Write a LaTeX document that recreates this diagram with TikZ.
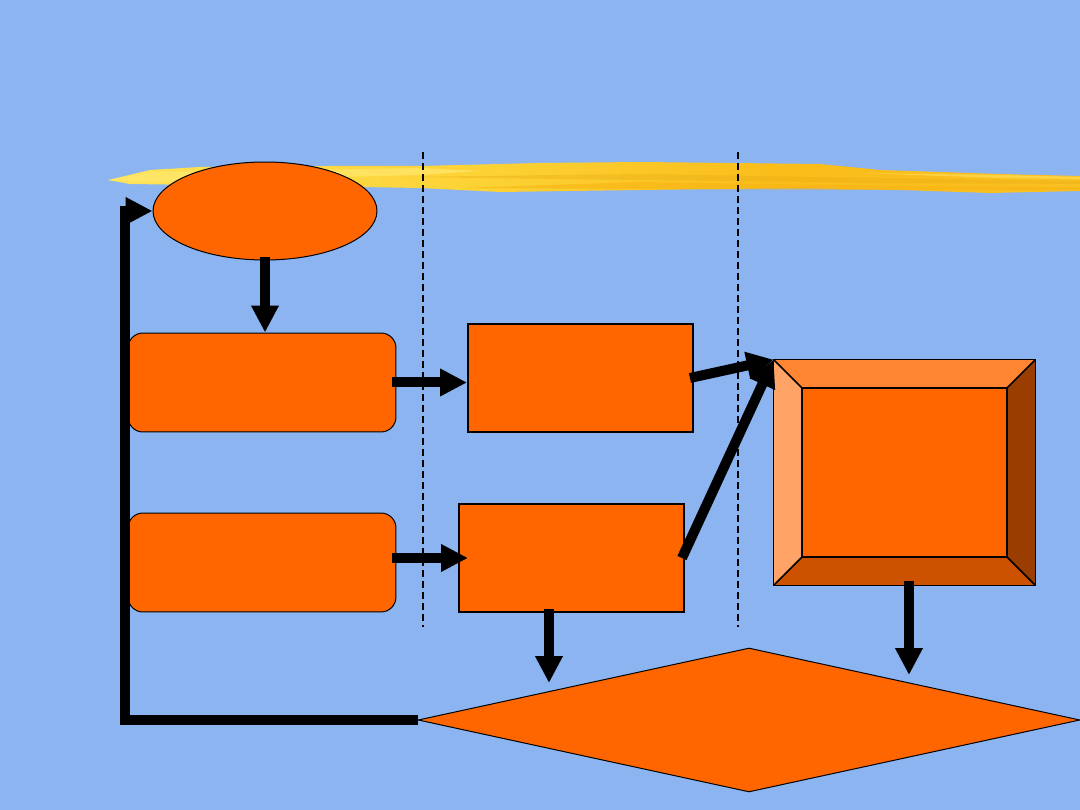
\documentclass[tikz,border=0pt]{standalone}
\usetikzlibrary{arrows.meta,shapes.geometric,calc}
\definecolor{bg}{RGB}{139,180,240}
\definecolor{org}{RGB}{255,102,0}
\definecolor{btop}{RGB}{255,133,51}
\definecolor{bleft}{RGB}{255,163,102}
\definecolor{bbot}{RGB}{204,82,0}
\definecolor{bright}{RGB}{153,61,0}
\definecolor{hlA}{RGB}{255,232,110}
\definecolor{hlB}{RGB}{250,200,40}
\definecolor{hlC}{RGB}{248,180,20}
\definecolor{hlD}{RGB}{230,170,20}
\pgfdeclarehorizontalshading{hlshade}{100bp}{%
  rgb(0bp)=(1,0.92,0.45); rgb(25bp)=(1,0.89,0.35); rgb(45bp)=(0.99,0.82,0.2);
  rgb(60bp)=(0.98,0.74,0.1); rgb(80bp)=(0.98,0.76,0.14); rgb(100bp)=(0.99,0.80,0.2)}
\tikzset{
  shp/.style={fill=org,draw=black,inner sep=0pt},
  ellip/.style={shp,ellipse,line width=0.02cm,minimum width=4.48cm,minimum height=1.96cm},
  rbox/.style={shp,rectangle,rounded corners=0.3cm,line width=0.02cm,minimum width=5.36cm,minimum height=1.98cm},
  sbox/.style={shp,rectangle,line width=0.04cm,minimum width=4.5cm,minimum height=2.16cm},
  bev/.style={rectangle,inner sep=0pt,minimum width=5.22cm,minimum height=4.5cm},
  dia/.style={shp,diamond,line width=0.02cm,minimum width=13.24cm,minimum height=2.88cm},
  arr/.style={line width=0.2cm,-{Triangle[length=0.54cm,width=0.52cm]}},
  lane/.style={line width=0.03cm,dash pattern=on 0.14cm off 0.08cm},
  face/.style={draw=black,line width=0.03cm,line join=miter}
}
\begin{document}
\begin{tikzpicture}[x=0.02cm,y=-0.02cm]
\fill[bg] (0,0) rectangle (1080,810);
\useasboundingbox (0,0) rectangle (1080,810);
% highlighter stroke
\shade[shading=hlshade]
  (108,180) -- (125,176) -- (150,170) -- (200,167) -- (330,166) -- (420,166) -- (540,163)
  -- (640,162) -- (820,164) -- (880,170) -- (1000,174) -- (1080,176) -- (1080,191)
  -- (990,193) -- (900,190) -- (800,188) -- (640,190) -- (500,192) -- (420,188)
  -- (300,186) -- (200,185) -- (130,184) -- cycle;
\fill[hlA,opacity=0.7] (108,180) -- (150,172) -- (300,170) -- (420,168) -- (480,171) -- (420,175) -- (300,178) -- (150,182) -- cycle;
\fill[hlD,opacity=0.35] (400,177) -- (640,174) -- (880,178) -- (1080,181) -- (1080,184) -- (880,183) -- (640,180) -- cycle;
\fill[hlC,opacity=0.6] (460,188) -- (640,182) -- (900,186) -- (1080,187) -- (1080,190) -- (900,190) -- (640,189) -- cycle;
\fill[hlA,opacity=0.5] (860,173) -- (1000,175) -- (1080,177) -- (1080,179) -- (1000,178) -- cycle;
% lanes
\draw[lane] (423,152) -- (423,627);
\draw[lane] (738,152) -- (738,627);
% nodes
\node[ellip] (start) at (265,211) {};
\node[rbox] (r1) at (262,382.5) {};
\node[rbox] (r2) at (262,562.5) {};
\node[sbox] (a) at (580.5,378) {};
\node[sbox] (b) at (571.5,558) {};
\node[bev] (bv) at (904.5,472.5) {};
\coordinate (i1) at (802,388);
\coordinate (i2) at (1007,388);
\coordinate (i3) at (1007,557);
\coordinate (i4) at (802,557);
\fill[btop] (bv.north west) -- (bv.north east) -- (i2) -- (i1) -- cycle;
\fill[bleft] (bv.north west) -- (i1) -- (i4) -- (bv.south west) -- cycle;
\fill[bbot] (bv.south west) -- (i4) -- (i3) -- (bv.south east) -- cycle;
\fill[bright] (bv.north east) -- (bv.south east) -- (i3) -- (i2) -- cycle;
\fill[org] (i1) rectangle (i3);
\draw[face] (bv.north west) rectangle (bv.south east);
\draw[face] (i1) rectangle (i3);
\draw[face] (bv.north west) -- (i1) (bv.north east) -- (i2) (bv.south east) -- (i3) (bv.south west) -- (i4);
\node[dia] (d) at (749,720) {};
% connectors
\draw[arr] ([yshift=0.06cm]start.south) -- (start.south |- r1.north);
\draw[arr] ([xshift=-0.08cm]r1.east) -- (r1.east -| a.west);
\coordinate (bIn) at (468,558);
\draw[arr] ([xshift=-0.08cm]r2.east |- bIn) -- (bIn);
\draw[arr] ([xshift=-0.08cm]a.east) -- (bv.north west);
\draw[arr] ([xshift=-0.06cm]b.east) -- (bv.north west);
\coordinate (t1) at (549,683);
\draw[arr] ([yshift=0.08cm]b.south -| t1) -- (t1);
\coordinate (t2) at (909,675);
\draw[arr] ([yshift=0.08cm]bv.south -| t2) -- (t2);
\draw[arr,line join=miter] (d.west) -- (125,720) |- (start.west);
\end{tikzpicture}
\end{document}
